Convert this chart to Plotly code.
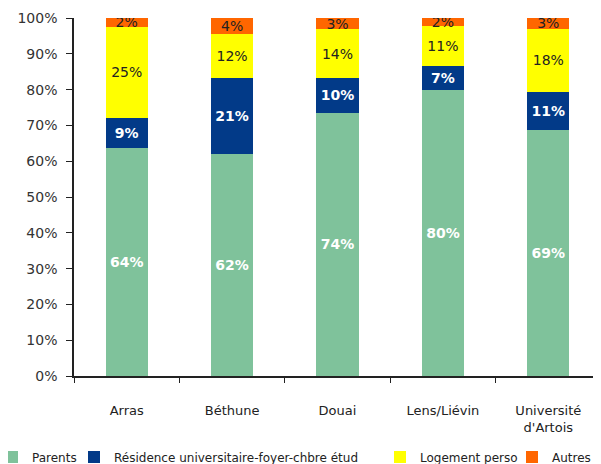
import plotly.graph_objects as go

categories = ["Arras", "Béthune", "Douai", "Lens/Liévin", "Université<br>d'Artois"]
parents = [63.6, 61.9, 73.6, 79.8, 68.8]
residence = [8.6, 21.3, 9.6, 6.9, 10.6]
logement = [25.4, 12.4, 13.6, 11.1, 17.6]
autres = [2.4, 4.4, 3.2, 2.2, 3.0]
y_ticks = [0, 10, 20, 30, 40, 50, 60, 70, 80, 90, 100]
y_ticktext = [f"{v}%" for v in y_ticks]

FONT = "DejaVu Sans, Verdana, sans-serif"
PAGE_OFF = 8  # default body margin of the written html page
W, H = 601 - PAGE_OFF, 464 - PAGE_OFF
ML, MR, MT, MB = 74 - PAGE_OFF, 0, 18 - PAGE_OFF, 88
PW = W - ML - MR

series = [
    ("Parents", parents, "#7fc29b", "white", True, "legend", 32),
    ("Résidence universitaire-foyer-chbre étud", residence, "#023a88", "white", True, "legend2", 114),
    ("Logement perso", logement, "#ffff00", "#222222", False, "legend3", 420),
    ("Autres", autres, "#ff6600", "#222222", False, "legend4", 552),
]

fig = go.Figure()
legends = {}
for name, vals, color, tcolor, bold, lg, text_x in series:
    fig.add_trace(go.Bar(
        x=categories, y=vals, name=name, legend=lg,
        marker=dict(color=color, line=dict(width=0)),
        texttemplate="<b>%{y:.0f}%</b>" if bold else "%{y:.0f}%",
        textposition="inside", insidetextanchor="middle",
        textangle=0,
        textfont=dict(color=tcolor, size=14, family=FONT),
        hoverinfo="skip",
    ))
    legends[lg] = dict(orientation="h", xref="paper", yref="container",
                       x=(text_x - PAGE_OFF - 40 - ML) / PW, xanchor="left",
                       y=(H - (457 - PAGE_OFF)) / H, yanchor="middle",
                       font=dict(size=12, family=FONT, color="#222"),
                       itemwidth=30, bgcolor="rgba(0,0,0,0)")

fig.update_layout(
    barmode="stack", bargap=0.6,
    width=W, height=H,
    margin=dict(l=ML, r=MR, t=MT, b=MB, autoexpand=False),
    plot_bgcolor="white", paper_bgcolor="white",
    font=dict(family=FONT, size=13, color="#222222"),
    showlegend=True,
    **legends,
)
fig.update_traces(constraintext="none")
fig.update_yaxes(range=[0, 100], tickmode="array", tickvals=y_ticks, ticktext=y_ticktext,
                 showline=True, linecolor="#222", linewidth=1.5, ticks="outside", ticklen=6,
                 tickcolor="#222", showgrid=False, zeroline=False,
                 tickfont=dict(size=14, color="#333"), ticklabelstandoff=6)
fig.update_xaxes(showline=True, linecolor="#222", linewidth=1.5, ticks="outside", ticklen=5,
                 tickcolor="#222", tickson="boundaries", showgrid=False,
                 tickfont=dict(size=13, color="#222"), ticklabelstandoff=22)
fig.write_html("out.html")
